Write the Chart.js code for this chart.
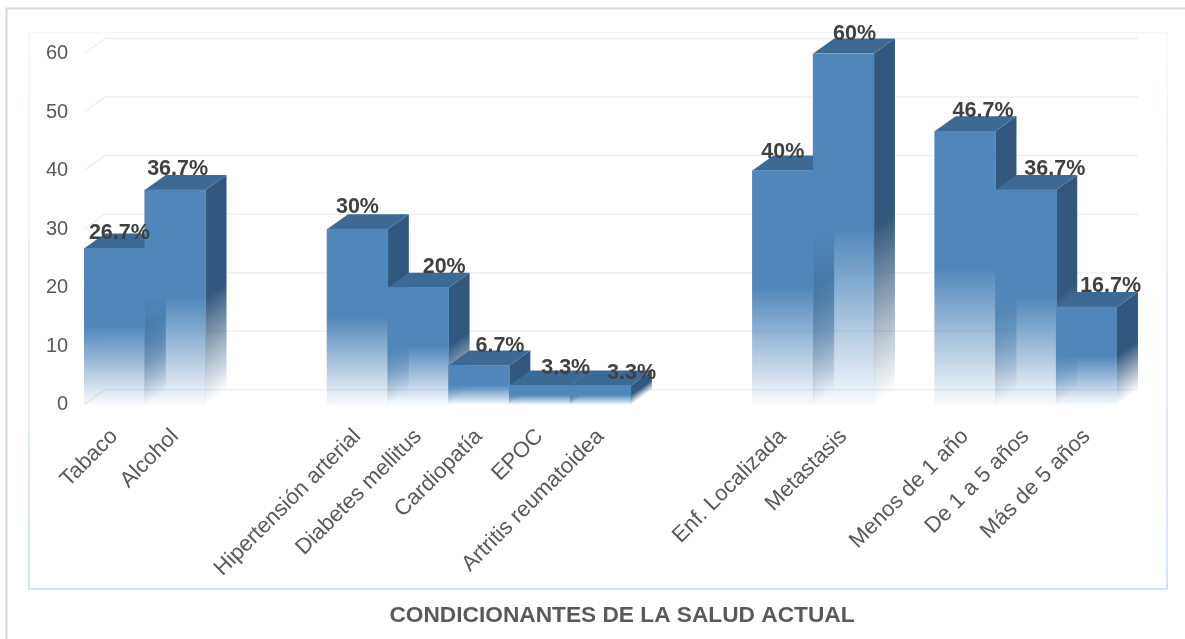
<!DOCTYPE html>
<html><head><meta charset="utf-8">
<style>html,body{margin:0;padding:0;background:#fff}canvas{display:block}</style>
<script src="https://cdn.jsdelivr.net/npm/chart.js@4"></script>
</head><body><canvas id="c" width="1185" height="639"></canvas>
<script>
const categories = ['Tabaco','Alcohol','','','Hipertensión arterial','Diabetes mellitus','Cardiopatía','EPOC','Artritis reumatoidea','','','Enf. Localizada','Metastasis','','Menos de 1 año','De 1 a 5 años','Más de 5 años'];
const values = [26.7,36.7,null,null,30,20,6.7,3.3,3.3,null,null,40,60,null,46.7,36.7,16.7];
const yTicks = [0,10,20,30,40,50,60];
const chartTitle = 'CONDICIONANTES DE LA SALUD ACTUAL';

// label nudges relative to the top face of each bar (the reference places them by hand)
const labelNudgeX = [-16,-18.5,0,0,-21,5,0,5,10,0,0,-21,-10,0,-3,8,3];
const labelNudgeY = [0,-6,0,0,-7,-6,-4,-2,3,0,0,-4,-4.5,0,-5,-6,-6];

const DX = 21, DY = 15;
const FRONT='79,135,187', TOP='#3c6a94', SIDE='51,88,125';

function frontFill(c){
  const ch=c.chart;
  if(!ch.chartArea||c.raw==null) return 'rgb('+FRONT+')';
  const y=ch.scales.y, t=y.getPixelForValue(c.raw), b=y.getPixelForValue(0);
  const g=ch.ctx.createLinearGradient(0,t,0,b);
  g.addColorStop(0,'rgba('+FRONT+',1)');
  g.addColorStop(.5,'rgba('+FRONT+',1)');
  g.addColorStop(.54,'rgba('+FRONT+',.92)');
  g.addColorStop(1,'rgba('+FRONT+',.03)');
  return g;
}

const scene = {
  id:'scene',
  beforeDraw(ch){
    const c=ch.ctx;
    c.save();
    c.fillStyle='#fff';c.fillRect(0,0,ch.width,ch.height);
    c.strokeStyle='#d9d9d9';c.lineWidth=2;
    c.beginPath();c.moveTo(6.5,639);c.lineTo(6.5,8.5);c.lineTo(1185,8.5);c.stroke();
    const g=c.createLinearGradient(0,32,0,589);
    g.addColorStop(0,'#f4f8fd');g.addColorStop(1,'#c6dcf2');
    c.strokeStyle=g;c.lineWidth=1.5;
    c.strokeRect(29,32.5,1138,556.5);
    c.restore();
  },
  beforeDatasetsDraw(ch){
    const c=ch.ctx, y=ch.scales.y, a=ch.chartArea;
    c.save();
    c.strokeStyle='#f0f0f2';c.lineWidth=1.5;
    y.ticks.forEach(t=>{
      const p=y.getPixelForValue(t.value);
      c.beginPath();c.moveTo(a.left,p);c.lineTo(a.left+DX,p-DY);c.lineTo(a.right+DX,p-DY);c.stroke();
    });
    ch.getDatasetMeta(0).data.forEach((el,i)=>{
      if(values[i]==null) return;
      const L=el.x-el.width/2, R=el.x+el.width/2, T=el.y, B=el.base;
      const h=B-T, len=Math.hypot(DX,DY), nx=DY/len, ny=DX/len;
      const my=T+h*.5, d=(h*.5)*ny;
      const g=c.createLinearGradient(R,my,R+nx*d,my+ny*d);
      g.addColorStop(0,'rgba('+SIDE+',1)');
      g.addColorStop(1,'rgba('+SIDE+',0)');
      c.fillStyle=g;
      c.beginPath();c.moveTo(R,T);c.lineTo(R+DX,T-DY);c.lineTo(R+DX,B-DY);c.lineTo(R,B);c.closePath();c.fill();
      c.fillStyle=TOP;
      c.beginPath();c.moveTo(L,T);c.lineTo(L+DX,T-DY);c.lineTo(R+DX,T-DY);c.lineTo(R,T);c.closePath();c.fill();
    });
    c.restore();
  },
  afterDatasetsDraw(ch){
    const c=ch.ctx;
    c.save();
    c.font='bold 21.5px "Liberation Sans"';c.fillStyle='#404040';
    c.textAlign='center';c.textBaseline='middle';
    ch.getDatasetMeta(0).data.forEach((el,i)=>{
      if(values[i]==null) return;
      c.fillText(values[i]+'%',el.x+DX+labelNudgeX[i],el.y-DY+labelNudgeY[i]);
    });
    c.restore();
  }
};

new Chart(document.getElementById('c'),{
  type:'bar',
  data:{labels:categories,datasets:[{data:values,backgroundColor:frontFill,borderWidth:0,categoryPercentage:1,barPercentage:1}]},
  plugins:[scene],
  options:{
    responsive:false,animation:false,
    layout:{padding:{left:59,right:0,top:53.5,bottom:0}},
    plugins:{
      legend:{display:false},tooltip:{enabled:false},
      title:{display:true,text:chartTitle,position:'bottom',color:'#595959',
        font:{family:'"Liberation Sans"',size:22.7,weight:'bold'},padding:{top:11,bottom:10}}
    },
    scales:{
      x:{grid:{display:false},border:{display:false},
        ticks:{autoSkip:false,minRotation:45,maxRotation:45,color:'#595959',padding:11,
          font:{family:'"Liberation Sans"',size:22}},
        afterFit(s){s.height=186;}},
      y:{min:0,max:60,grid:{display:false},border:{display:false},
        afterBuildTicks(s){s.ticks=yTicks.map(v=>({value:v}));},
        ticks:{mirror:true,crossAlign:'far',color:'#595959',padding:-38,font:{family:'"Liberation Sans"',size:20}},
        afterFit(s){s.width=25;}},
      pad:{type:'linear',position:'right',display:true,grid:{display:false},border:{display:false},
        ticks:{display:false},afterFit(s){s.width=68;}}
    }
  }
});
</script></body></html>
